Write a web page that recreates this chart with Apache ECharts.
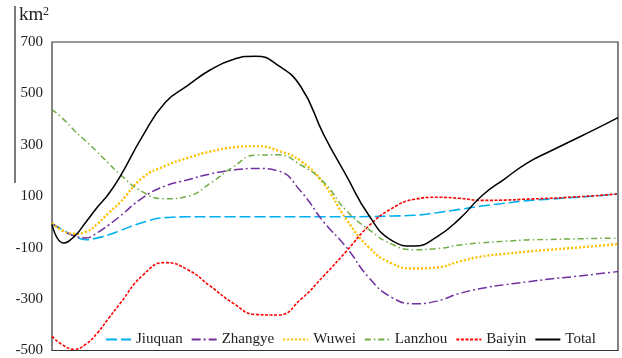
<!DOCTYPE html>
<html>
<head>
<meta charset="utf-8">
<script src="https://cdn.jsdelivr.net/npm/echarts@6/dist/echarts.min.js"></script>
<style>
  html, body { margin: 0; padding: 0; background: #fff; }
  #chart { width: 622px; height: 358px; }
</style>
</head>
<body>
<div id="chart"></div>
<script>
// Sample positions along the (unlabelled) horizontal axis
const timeline = [0, 0.5, 1, 1.5, 2, 2.5, 3, 4, 5, 6, 7, 8, 9, 10, 11, 12, 13, 14, 15, 16, 17, 18, 19, 20, 21, 22, 23, 24, 25];

// Area change per city, km²
const jiuquan  = [-6, -32, -55, -69, -62, -50, -34, -2, 17, 20, 20, 20, 20, 20, 20, 20, 20, 21, 23, 26, 36, 49, 62, 73, 83, 89, 95, 101, 109];
const zhangye  = [-5, -35, -55, -62, -42, -12, 22, 94, 140, 164, 187, 202, 208, 198, 118, 0, -98, -217, -293, -318, -308, -278, -258, -244, -233, -222, -213, -203, -193];
const wuwei    = [-5, -35, -46, -38, -8, 35, 75, 172, 218, 249, 274, 290, 295, 277, 236, 149, 10, -99, -161, -181, -177, -154, -134, -124, -115, -108, -101, -94, -86];
const lanzhou  = [438, 400, 355, 314, 272, 228, 185, 117, 90, 100, 151, 214, 260, 261, 221, 155, 44, -30, -86, -108, -104, -90, -81, -75, -70, -68, -66, -64, -63];
const baiyin   = [-445, -480, -495, -475, -432, -375, -318, -208, -158, -186, -250, -316, -360, -362, -300, -210, -114, -15, 52, 88, 96, 92, 84, 85, 89, 92, 97, 102, 109];
const total    = [-10, -82, -55, 0, 57, 109, 175, 334, 465, 531, 592, 632, 645, 608, 525, 340, 180, 25, -72, -94, -58, 12, 103, 168, 230, 275, 318, 361, 406];

const names = ['Jiuquan', 'Zhangye', 'Wuwei', 'Lanzhou', 'Baiyin', 'Total'];
const yTicks = [-500, -300, -100, 100, 300, 500, 700];

const styles = {
  Jiuquan: { color: '#00b0f0', width: 1.6, type: [11, 4] },
  Zhangye: { color: '#7030a0', width: 1.5, type: [9, 3, 2, 3] },
  Wuwei:   { color: '#ffc000', width: 2.4, type: [2, 2] },
  Lanzhou: { color: '#70ad47', width: 1.5, type: [6, 3, 1.5, 3] },
  Baiyin:  { color: '#ff0000', width: 1.6, type: [3, 1.6] },
  Total:   { color: '#000000', width: 1.5, type: 'solid' }
};

const values = { Jiuquan: jiuquan, Zhangye: zhangye, Wuwei: wuwei, Lanzhou: lanzhou, Baiyin: baiyin, Total: total };

const serif = 'Liberation Serif, Times New Roman, serif';

const series = names.map(n => ({
  name: n,
  type: 'line',
  smooth: 0.5,
  symbol: 'none',
  data: timeline.map((t, i) => [t, values[n][i]]),
  lineStyle: { color: styles[n].color, width: styles[n].width, type: styles[n].type },
  itemStyle: { color: styles[n].color },
  emphasis: { disabled: true }
}));

const chart = echarts.init(document.getElementById('chart'), null, { renderer: 'canvas' });
chart.setOption({
  animation: false,
  backgroundColor: '#fff',
  grid: {
    left: 52, right: 4, top: 42, bottom: 2,
    show: true, borderColor: '#333', borderWidth: 1.2, backgroundColor: 'transparent'
  },
  xAxis: {
    type: 'value', min: timeline[0], max: timeline[timeline.length - 1], show: false
  },
  yAxis: {
    type: 'value', min: yTicks[0], max: yTicks[yTicks.length - 1], interval: 100,
    axisLine: { show: false }, axisTick: { show: false }, splitLine: { show: false },
    axisLabel: {
      margin: 9, color: '#222', fontFamily: serif, fontSize: 15,
      formatter: v => (yTicks.indexOf(v) >= 0 ? String(v) : '')
    }
  },
  legend: {
    data: names,
    left: 105, top: 332, padding: 0,
    itemWidth: 25, itemHeight: 14, itemGap: 8,
    itemStyle: { opacity: 0 },
    textStyle: { fontFamily: serif, fontSize: 15, color: '#222' }
  },
  graphic: [
    { type: 'line', shape: { x1: 15, y1: 6, x2: 15, y2: 183 }, style: { stroke: '#222', lineWidth: 1.2 } },
    { type: 'text', left: 19, top: 6, style: { text: 'km', font: '19px ' + serif, fill: '#222' } },
    { type: 'text', left: 43, top: 6, style: { text: '2', font: '12px ' + serif, fill: '#222' } }
  ],
  series: series
});
</script>
</body>
</html>
